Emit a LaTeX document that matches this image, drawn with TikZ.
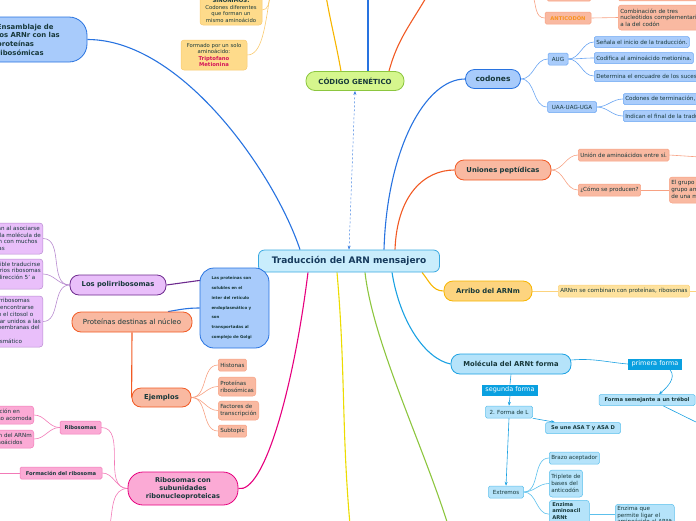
\documentclass[tikz,border=0pt]{standalone}
\usepackage{fontspec}
\setmainfont{DejaVu Sans}
\usetikzlibrary{arrows.meta,backgrounds}
\definecolor{ink}{HTML}{17383A}
\definecolor{navy}{HTML}{163A5C}
\definecolor{cenfill}{HTML}{C9EDFC}
\definecolor{cenline}{HTML}{39A9E1}
\definecolor{codfill}{HTML}{D5F68D}
\definecolor{codline}{HTML}{8CC63F}
\definecolor{bluefill}{HTML}{A8CBFB}
\definecolor{blueline}{HTML}{2873E0}
\definecolor{subblue}{HTML}{A9CCFB}
\definecolor{subblueline}{HTML}{6AA5F2}
\definecolor{salfill}{HTML}{F9B9A1}
\definecolor{salline}{HTML}{F15A24}
\definecolor{salsubline}{HTML}{F7A183}
\definecolor{antic}{HTML}{F7931E}
\definecolor{yelfill}{HTML}{FDD47F}
\definecolor{yelline}{HTML}{F7B500}
\definecolor{yelsub}{HTML}{FEE29E}
\definecolor{yelsubline}{HTML}{FCD37D}
\definecolor{synfill}{HTML}{FEDB8B}
\definecolor{synline}{HTML}{F9CA70}
\definecolor{cyanfill}{HTML}{B5E3FA}
\definecolor{cyanline}{HTML}{1BA1E2}
\definecolor{cyansub}{HTML}{5CC0EC}
\definecolor{deepcyan}{HTML}{0AA0E0}
\definecolor{lavfill}{HTML}{E9BFFA}
\definecolor{lavline}{HTML}{6D2A8E}
\definecolor{lavsub}{HTML}{B88BD0}
\definecolor{pinkfill}{HTML}{FBAAD5}
\definecolor{pinkline}{HTML}{E6007E}
\definecolor{pinksub}{HTML}{F27AB7}
\definecolor{lime}{HTML}{8DC63F}
\definecolor{yelbright}{HTML}{ECDC00}
\definecolor{trip}{HTML}{D4145A}
\definecolor{dashblue}{HTML}{3D7FE0}
\begin{document}
\begin{tikzpicture}
        [x=1pt,y=-1pt,
        every node/.style={text=ink,inner sep=1.5pt},
        central/.style={draw=cenline,fill=cenfill,line width=0.8pt,rounded corners=6pt,
          minimum width=181pt,minimum height=22pt,text=navy,
          font=\bfseries\fontsize{9}{10}\selectfont},
        topic/.style={draw,line width=0.8pt,rounded corners=9pt,
          font=\bfseries\fontsize{6.8}{8}\selectfont},
        sub/.style={draw,line width=0.5pt,rounded corners=1.5pt,align=left,inner sep=2pt,
          font=\fontsize{5.6}{6.7}\selectfont},
        subbold/.style={sub,align=center,font=\bfseries\fontsize{5.2}{6.6}\selectfont},
        flag/.style={fill=deepcyan,text=white,inner sep=1pt,
          font=\fontsize{6.5}{7}\selectfont},
        branch/.style={line width=1.1pt},
        twig/.style={line width=0.6pt},
        tip/.style={-{Stealth[length=4pt,width=3pt]}}]
        \useasboundingbox (0,0) rectangle (696,520);

        \node[central] (trad) at (349,261) {Traducción del ARN mensajero};

        \node[topic,fill=codfill,draw=codline,minimum width=98pt,minimum height=19pt,
          font=\bfseries\fontsize{7}{8}\selectfont] (cod) at (355,81) {CÓDIGO GENÉTICO};
        \coordinate (c1) at (326,-4);
        \coordinate (c2) at (368,-4);
        \coordinate (c3) at (427,-4);

        \node[topic,fill=bluefill,draw=blueline,minimum width=107pt,minimum height=45pt,
          rounded corners=18pt,text width=73pt,align=left,
          font=\bfseries\fontsize{6.9}{8.7}\selectfont] (ens) at (33.5,39.5)
          {Ensamblaje de\\los ARNr con las\\proteínas\\ribosómicas};

        \node[sub,fill=synfill,draw=synline,rounded corners=3pt,align=center,
          minimum width=62pt,minimum height=30pt,font=\fontsize{5.3}{6.8}\selectfont] (syn) at (231,10)
          {\textbf{SINÓNIMOS:}\\Codones diferentes\\que forman un\\mismo aminoácido};
        \node[sub,fill=synfill,draw=synline,rounded corners=3pt,align=center,
          minimum width=66pt,minimum height=30pt,font=\fontsize{5.3}{6.6}\selectfont] (form) at (214,55)
          {Formado por un solo\\aminoácido:\\\textcolor{trip}{\textbf{Triptofano}}\\\textcolor{trip}{\textbf{Metionina}}};
        \coordinate (c4) at (270,-4);

        \node[topic,fill=bluefill,draw=blueline,minimum width=55pt,minimum height=19pt,
          font=\bfseries\fontsize{7.5}{8}\selectfont] (codn) at (493,79) {codones};
        \node[sub,fill=subblue,draw=subblueline,align=center,minimum width=20pt,minimum height=12pt] (aug) at (558,59) {AUG};
        \node[sub,fill=subblue,draw=subblueline,align=center,minimum width=49pt,minimum height=11pt] (uaa) at (572,107) {UAA-UAG-UGA};
        \node[sub,fill=subblue,draw=subblueline,anchor=west,minimum height=11pt] (sen) at (594,42) {Señala el inicio de la traducción.};
        \node[sub,fill=subblue,draw=subblueline,anchor=west,minimum height=11pt] (codi) at (594,58) {Codifica al aminoácido metionina.};
        \node[sub,fill=subblue,draw=subblueline,anchor=west,minimum height=11pt] (det) at (594,76) {Determina el encuadre de los sucesivos codones.};
        \node[sub,fill=subblue,draw=subblueline,anchor=west,minimum height=11pt] (term) at (623,99) {Codones de terminación, no codifican aminoácidos.};
        \node[sub,fill=subblue,draw=subblueline,anchor=west,minimum height=11pt] (indi) at (623,116) {Indican el final de la traducción.};

        \node[sub,fill=salfill,draw=salsubline,minimum width=44pt,minimum height=18pt] (codon) at (569,-8) {};
        \node[sub,fill=salfill,draw=salsubline,anchor=south west,minimum width=90pt,minimum height=18pt] (codondef) at (618,1) {};
        \node[subbold,fill=salfill,draw=salsubline,minimum width=46pt,minimum height=12pt,text=antic] (anticod) at (568,18) {ANTICODÓN};
        \node[sub,fill=salfill,draw=salsubline,anchor=west,rounded corners=3pt,minimum height=25pt] (comb) at (618,17.5)
          {Combinación de tres\\nucleótidos complementarios\\a la del codón};
        \coordinate (c5) at (533,-4);

        \node[topic,fill=salfill,draw=salline,minimum width=96pt,minimum height=20pt] (uni) at (503,170) {Uniones peptídicas};
        \node[sub,fill=salfill,draw=salsubline,anchor=west,minimum height=12pt] (unia) at (578,155) {Unión de aminoácidos entre sí.};
        \node[sub,fill=salfill,draw=salsubline,anchor=west,minimum height=12pt] (como) at (578,190) {¿Cómo se producen?};
        \node[sub,fill=salfill,draw=salsubline,anchor=west,rounded corners=3pt,minimum height=26pt] (grupo) at (669,190)
          {El grupo carboxilo se une al\\grupo amino de otro, con pérdida\\de una molécula de agua};
        \coordinate (c6) at (700,157);

        \node[topic,fill=yelfill,draw=yelline,minimum width=88pt,minimum height=20pt] (arr) at (488,291) {Arribo del ARNm};
        \node[sub,fill=yelsub,draw=yelsubline,anchor=west,minimum height=12pt] (arnm) at (558,291) {ARNm se combinan con proteínas, ribosomas};
        \coordinate (c7) at (700,291);

        \node[topic,fill=cyanfill,draw=cyanline,minimum width=120pt,minimum height=20pt] (mol) at (511,364) {Molécula del ARNt forma};
        \node[flag,minimum width=54pt,minimum height=11pt] (pri) at (655,364) {primera forma};
        \node[flag,minimum width=56pt,minimum height=11pt] (seg) at (510,390) {segunda forma};
        \node[subbold,fill=cyanfill,draw=cyansub,minimum width=96pt,minimum height=11pt] (tre) at (647,400) {Forma semejante a un trébol};
        \coordinate (c8) at (700,424);
        \node[sub,fill=cyanfill,draw=cyansub,align=center,minimum width=47pt,minimum height=12pt] (forL) at (509,412) {2. Forma de L};
        \node[subbold,fill=cyanfill,draw=cyansub,minimum width=75pt,minimum height=11pt] (asa) at (583,428) {Se une ASA T y ASA D};
        \node[sub,fill=cyanfill,draw=cyansub,align=center,minimum width=35pt,minimum height=12pt] (ext) at (506,492) {Extremos};
        \node[sub,fill=cyanfill,draw=cyansub,anchor=west,minimum height=12pt] (brazo) at (549,458) {Brazo aceptador};
        \node[sub,fill=cyanfill,draw=cyansub,anchor=west,rounded corners=3pt,minimum height=27pt] (tripl) at (549,483.5)
          {Triplete de\\bases del\\anticodón};
        \node[subbold,fill=cyanfill,draw=cyansub,anchor=north west,rounded corners=3pt,align=left,
          text width=34pt,inner xsep=3pt] (enz) at (549,500)
          {Enzima\\aminoacil\\ARNt\\sintetasa};
        \node[sub,fill=cyanfill,draw=cyansub,anchor=north west,rounded corners=3pt] (enq) at (615,504)
          {Enzima que\\permite ligar el\\aminoácido al ARNt};

        \node[topic,fill=lavfill,draw=lavline,minimum width=96pt,minimum height=20pt] (poli) at (118,285) {Los polirribosomas};
        \node[sub,fill=lavfill,draw=lavsub,anchor=east,rounded corners=3pt,minimum height=31pt] (pc1) at (43,238.5)
          {Se forman al asociarse\\a una sola molécula de\\de ARNm con muchos\\ribosomas};
        \node[sub,fill=lavfill,draw=lavsub,anchor=east,rounded corners=3pt,minimum height=30pt] (pc2) at (43,274)
          {Es posible traducirse\\por varios ribosomas\\en la dirección 5' a\\3'};
        \node[sub,fill=lavfill,draw=lavsub,anchor=east,rounded corners=3pt,minimum height=51pt] (pc3) at (43,321.5)
          {Los polirribosomas\\pueden encontrarse\\libres en el citosol o\\bien estar unidos a las\\de las membranas del\\retículo\\endoplasmático};

        \node[topic,fill=salfill,draw=salline,minimum width=120pt,minimum height=20pt,
          font=\fontsize{7}{8}\selectfont] (protdest) at (132,322) {Proteínas destinas al núcleo};

        \node[topic,fill=salfill,draw=salline,minimum width=59pt,minimum height=19pt] (ejem) at (161.5,397.5) {Ejemplos};
        \node[sub,fill=salfill,draw=salsubline,anchor=west,minimum height=12pt] (hist) at (218,365) {Histonas};
        \node[sub,fill=salfill,draw=salsubline,anchor=west,rounded corners=3pt,minimum height=19pt] (prib) at (218,386.5) {Proteínas\\ribosómicas};
        \node[sub,fill=salfill,draw=salsubline,anchor=west,rounded corners=3pt,minimum height=19pt] (fact) at (218,410.5) {Factores de\\transcripción};
        \node[sub,fill=salfill,draw=salsubline,anchor=west,minimum height=12pt] (subt) at (218,431) {Subtopic};

        \node[topic,fill=pinkfill,draw=pinkline,minimum width=110pt,minimum height=33pt,rounded corners=15pt,
          align=center,font=\bfseries\fontsize{6.6}{8}\selectfont] (ribo) at (183,488.5)
          {Ribosomas con\\subunidades\\ribonucleoproteicas};
        \node[subbold,fill=pinkfill,draw=pinksub,minimum width=41pt,minimum height=13pt] (rib) at (80.5,427.5) {Ribosomas};
        \node[subbold,fill=pinkfill,draw=pinksub,minimum width=82pt,minimum height=12pt] (formr) at (61,473) {Formación del ribosoma};
        \node[sub,fill=pinkfill,draw=pinksub,anchor=east,rounded corners=3pt,minimum height=18pt] (rc1) at (34,415)
          {Participación en\\el proceso acomoda};
        \node[sub,fill=pinkfill,draw=pinksub,anchor=east,rounded corners=3pt,minimum height=18pt] (rc2) at (34,439)
          {Traducción del ARNm\\a los aminoácidos};
        \coordinate (c11) at (110,525);
        \coordinate (c12) at (-5,473);
        \coordinate (c9) at (448,525);
        \coordinate (c10) at (350,525);

        \node[draw=blueline,fill=bluefill,line width=0.8pt,rounded corners=14pt,minimum width=69pt,
          minimum height=80pt,text width=46pt,align=left,
          font=\bfseries\fontsize{4}{9.8}\selectfont] (lasprot) at (234.5,308)
          {Las proteínas son\\solubles en el\\inter del retículo\\endoplasmático y\\son\\transportadas al\\complejo de Golgi};

        \begin{scope}[on background layer]
        \draw[line width=0.5pt,dashblue,dash pattern=on 2pt off 2pt,
          {Stealth[length=4pt,width=3pt]}-{Stealth[length=4pt,width=3pt]}] (cod.south) -- (trad.north);
        \draw[branch,yelline] ([xshift=-14pt]cod.north) to[out=100,in=-80] (c1);
        \draw[branch,blueline] ([xshift=13pt]cod.north) -- (c2);
        \draw[branch,salline] ([xshift=34pt]cod.north) to[out=75,in=-120] (c3);

        \draw[branch,blueline] (ens.east) .. controls +(95,0) and +(-25,-75) .. ([xshift=-49pt]trad.north);
        \draw[twig,synline] (form.east) .. controls +(15,0) and +(-5,30) .. (c4);
        \draw[twig,synline] (syn.east) to[out=0,in=-100] (c4);

        \draw[branch,blueline] ([xshift=35pt]trad.north) .. controls +(3,-100) and +(-40,0) .. (codn.west);
        \foreach \n in {aug,uaa}
          {\draw[twig,subblueline] (codn.east) to[out=0,in=180] (\n.west);}
        \foreach \n in {sen,codi,det}
          {\draw[twig,subblueline] (aug.east) to[out=0,in=180] (\n.west);}
        \foreach \n in {term,indi}
          {\draw[twig,subblueline] (uaa.east) to[out=0,in=180] (\n.west);}

        \draw[twig,salsubline] (anticod.west) to[out=180,in=-70] (c5);
        \draw[twig,salsubline] (anticod.east) -- (comb.west);

        \draw[branch,salline] ([xshift=46pt]trad.north) .. controls +(2,-55) and +(-30,0) .. (uni.west);
        \foreach \n in {unia,como}
          {\draw[twig,salsubline] (uni.east) to[out=0,in=180] (\n.west);}
        \draw[twig,salsubline] (unia.east) -- (c6);
        \draw[twig,salsubline] (como.east) -- (grupo.west);

        \draw[branch,yelline] ([xshift=73pt]trad.south) to[out=-50,in=180] (arr.west);
        \draw[twig,yelsubline] (arr.east) -- (arnm.west);
        \draw[twig,yelsubline] (arnm.east) -- (c7);

        \draw[branch,cyanline] ([xshift=43pt]trad.south) .. controls +(8,50) and +(-25,-5) .. (mol.west);
        \draw[twig,cyanline] ([yshift=4pt]mol.east) to[out=5,in=175] (pri.west);
        \draw[twig,cyanline,tip] ([xshift=15pt]pri.south) to[out=-50,in=40] ([xshift=12pt]tre.north);
        \draw[twig,cyanline] ([xshift=16pt]tre.south) -- (c8);
        \draw[twig,cyanline] (mol.south) -- (seg.north);
        \draw[twig,cyanline,tip] (seg.south) -- (forL.north);
        \draw[twig,cyanline,tip] (forL.south east) -- ([xshift=-28pt]asa.north);
        \draw[twig,cyanline,tip] (forL.south) -- (ext.north);
        \foreach \n in {brazo,tripl,enz}
          {\draw[twig,cyansub] (ext.east) to[out=0,in=180] (\n.west);}
        \draw[twig,cyansub] (enz.east) -- (enz.east -| enq.west);

        \draw[branch,lime] ([xshift=16pt]trad.south) .. controls +(8,70) and +(-25,-80) .. (c9);
        \draw[branch,yelbright] ([xshift=-12pt]trad.south) to[out=-85,in=95] (c10);
        \draw[branch,pinkline] ([xshift=-41pt]trad.south) .. controls +(-15,120) and +(25,5) .. (ribo.east);

        \draw[branch,lavline] (poli.east) -- (trad.south west);
        \foreach \n in {pc1,pc2,pc3}
          {\draw[twig,lavsub] (poli.west) to[out=180,in=0] (\n.east);}

        \draw[branch,blueline] ([xshift=36pt]protdest.north) to[out=10,in=180] (lasprot.west);
        \draw[branch,salline] (protdest.south) -- (ejem.west);
        \foreach \n in {hist,prib,fact,subt}
          {\draw[twig,salsubline] (ejem.east) to[out=0,in=180] (\n.west);}

        \foreach \n in {rib,formr}
          {\draw[twig,pinksub] (ribo.west) to[out=180,in=0] (\n.east);}
        \draw[twig,pinksub] (ribo.west) to[out=180,in=80] (c11);
        \foreach \n in {rc1,rc2}
          {\draw[twig,pinksub] (rib.west) to[out=180,in=0] (\n.east);}
        \draw[twig,pinksub] (formr.west) -- (c12);
        \end{scope}
      \end{tikzpicture}
\end{document}
